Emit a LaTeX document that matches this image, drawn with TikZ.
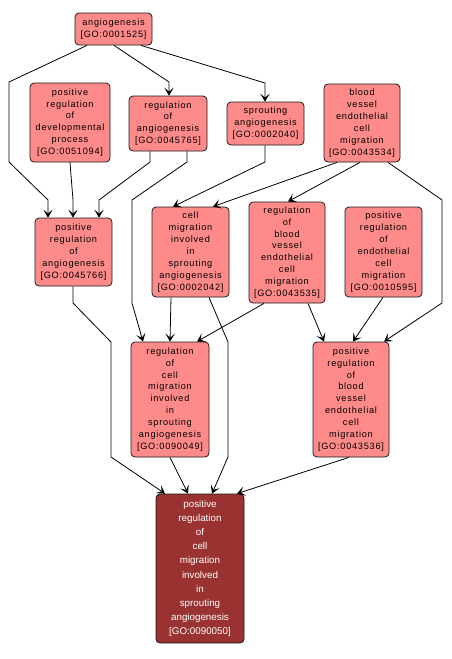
\documentclass[tikz,border=0pt]{standalone}
\usepackage{fontspec}
\newfontfamily\gofont[LetterSpace=8]{Liberation Sans}
\newfontfamily\gofontplain{Liberation Sans}
\usetikzlibrary{arrows.meta}

\definecolor{goterm}{HTML}{FF8A8A}
\definecolor{goquery}{HTML}{9A3232}

\begin{document}
\begin{tikzpicture}[
  x=1pt, y=-1pt,
  term/.style={draw=black!90, line width=0.8pt, rounded corners=4pt, fill=goterm, align=center,
               inner sep=0pt, font=\gofont\fontsize{9.2}{11.9}\selectfont},
  query/.style={term, fill=goquery, text=white, font=\gofontplain\fontsize{9.8}{14.2}\selectfont},
  edge/.style={draw=black, line width=0.8pt, -{Stealth[length=8pt,width=9.5pt,inset=4pt]}}
]
\useasboundingbox (0,0) rectangle (452,659);

% top row
\node[term, minimum width=77pt, minimum height=32pt] (ang) at (113.5,29) {angiogenesis\\{[GO:0001525]}};
\node[term, minimum width=80pt, minimum height=79pt] (prdp) at (70,122.5) {positive\\regulation\\of\\developmental\\process\\{[GO:0051094]}};
\node[term, minimum width=78pt, minimum height=55pt] (rang) at (168,123.5) {regulation\\of\\angiogenesis\\{[GO:0045765]}};
\node[term, minimum width=77pt, minimum height=43pt] (spang) at (265.5,123.5) {sprouting\\angiogenesis\\{[GO:0002040]}};
\node[term, minimum width=76pt, minimum height=78pt] (bvecm) at (362,123) {blood\\vessel\\endothelial\\cell\\migration\\{[GO:0043534]}};

% middle row
\node[term, minimum width=77pt, minimum height=68pt] (prang) at (73.5,252) {positive\\regulation\\of\\angiogenesis\\{[GO:0045766]}};
\node[term, minimum width=77pt, minimum height=90pt] (cmisa) at (190.5,252) {cell\\migration\\involved\\in\\sprouting\\angiogenesis\\{[GO:0002042]}};
\node[term, minimum width=76pt, minimum height=101pt] (rbvecm) at (287,252.5) {regulation\\of\\blood\\vessel\\endothelial\\cell\\migration\\{[GO:0043535]}};
\node[term, minimum width=77pt, minimum height=90pt] (precm) at (383.5,252) {positive\\regulation\\of\\endothelial\\cell\\migration\\{[GO:0010595]}};

% lower row
\node[term, minimum width=78pt, minimum height=115pt] (rcmisa) at (170,399.5) {regulation\\of\\cell\\migration\\involved\\in\\sprouting\\angiogenesis\\{[GO:0090049]}};
\node[term, minimum width=76pt, minimum height=115pt] (pbvecm) at (351,399.5) {positive\\regulation\\of\\blood\\vessel\\endothelial\\cell\\migration\\{[GO:0043536]}};

% query term
\node[query, minimum width=88pt, minimum height=149pt] (pcmisa) at (200,568.5) {positive\\regulation\\of\\cell\\migration\\involved\\in\\sprouting\\angiogenesis\\{[GO:0090050]}};

% edges
\draw[edge] (87,0 |- ang.south) -- (9,82) -- (9,162) -- (48,200) -- (48,0 |- prang.north);
\draw[edge] (114,0 |- ang.south) -- (169,82) -- (169,0 |- rang.north);
\draw[edge] (141,0 |- ang.south) -- (265,83) -- (265,0 |- spang.north);
\draw[edge] (70,0 |- prdp.south) -- (73,200) -- (73,0 |- prang.north);
\draw[edge] (150,0 |- rang.south) -- (150,162) -- (99,200) -- (99,0 |- prang.north);
\draw[edge] (187,0 |- rang.south) -- (187,162) -- (132,200) -- (132,303) -- (143,0 |- rcmisa.north);
\draw[edge] (265,0 |- spang.south) -- (265,162) -- (173,0 |- cmisa.north);
\draw[edge] (337,0 |- bvecm.south) -- (213,0 |- cmisa.north);
\draw[edge] (360,0 |- bvecm.south) -- (288,0 |- rbvecm.north);
\draw[edge] (388,0 |- bvecm.south) -- (442,200) -- (442,303) -- (384,0 |- pbvecm.north);
\draw[edge] (171,0 |- cmisa.south) -- (170,0 |- rcmisa.north);
\draw[edge] (209,0 |- cmisa.south) -- (228,342) -- (228,457) -- (212,0 |- pcmisa.north);
\draw[edge] (264,0 |- rbvecm.south) -- (197,0 |- rcmisa.north);
\draw[edge] (308,0 |- rbvecm.south) -- (324,0 |- pbvecm.north);
\draw[edge] (383,0 |- precm.south) -- (353,0 |- pbvecm.north);
\draw[edge] (73,0 |- prang.south) -- (73,303) -- (111,342) -- (111,457) -- (165,0 |- pcmisa.north);
\draw[edge] (170,0 |- rcmisa.south) -- (188,0 |- pcmisa.north);
\draw[edge] (349,0 |- pbvecm.south) -- (237,0 |- pcmisa.north);
\end{tikzpicture}
\end{document}
